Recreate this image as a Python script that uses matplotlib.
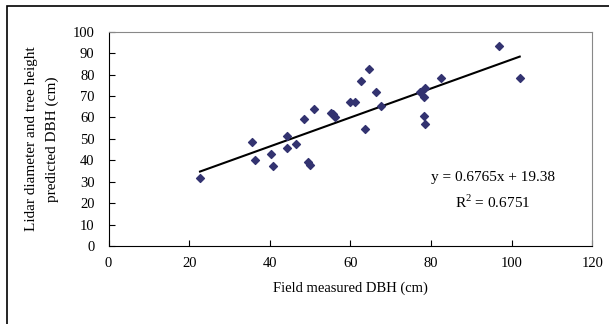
import matplotlib.pyplot as plt
from matplotlib.patches import Rectangle

# field measured DBH (cm)
field_dbh = [22.7, 35.7, 36.4, 40.4, 40.9, 44.2, 44.2, 46.4, 48.6, 49.6,
             50.1, 50.9, 55.3, 55.6, 56.1, 60.0, 61.2, 62.7, 64.5, 63.7,
             66.3, 67.5, 77.2, 78.5, 78.2, 78.2, 78.5, 82.4, 96.9, 102.0]
# lidar predicted DBH (cm)
pred_dbh = [31.9, 48.7, 40.3, 43.1, 37.2, 51.5, 45.6, 47.7, 59.4, 39.2,
            37.9, 63.8, 62.2, 61.5, 60.3, 67.3, 67.3, 76.9, 82.4, 54.5,
            71.7, 65.5, 72.0, 73.6, 69.4, 60.5, 56.8, 78.2, 93.2, 78.2]

slope = 0.6765
intercept = 19.38
x_ticks = [0, 20, 40, 60, 80, 100, 120]
y_ticks = [0, 10, 20, 30, 40, 50, 60, 70, 80, 90, 100]

plt.rcParams['font.family'] = ['Liberation Serif', 'DejaVu Serif']

fig = plt.figure(figsize=(6.09, 3.24), dpi=100)
ax = fig.add_axes([108.5 / 609, 1 - 246 / 324, (592.3 - 108.5) / 609, (246 - 31.7) / 324])

# outer frame
fig.patches.append(Rectangle((7 / 609, -0.1), 1.1, 1 - 6 / 324 + 0.1,
                             transform=fig.transFigure, fill=False,
                             edgecolor='black', linewidth=1.2))

ax.scatter(field_dbh, pred_dbh, marker='D', s=16, color='#333370', zorder=3)
x0, x1 = min(field_dbh), max(field_dbh)
ax.plot([x0, x1], [slope * x0 + intercept, slope * x1 + intercept],
        color='black', linewidth=1.5, zorder=2)

ax.set_xlim(0, 120)
ax.set_ylim(0, 100)
ax.set_xticks(x_ticks)
ax.set_yticks(y_ticks)
ax.tick_params(direction='in', length=4, width=0.8, labelsize=10.5)
ax.tick_params(axis='x', pad=8)
ax.tick_params(axis='y', pad=10)
for s in ['top', 'right']:
    ax.spines[s].set_color('#888888')
for s in ['left', 'bottom']:
    ax.spines[s].set_color('black')

ax.set_xlabel('Field measured DBH (cm)', fontsize=10.5, labelpad=8)
ax.set_ylabel('Lidar diameter and tree height\npredicted DBH (cm)', fontsize=11,
              labelpad=10, linespacing=1.7)

ax.text(493 / 609, 1 - 177 / 324, 'y = 0.6765x + 19.38', transform=fig.transFigure,
        ha='center', va='center', fontsize=11)
ax.text(493 / 609, 1 - 202 / 324, 'R$^{\\mathregular{2}}$ = 0.6751', transform=fig.transFigure,
        ha='center', va='center', fontsize=11)

fig.savefig('out.png', dpi=100)
